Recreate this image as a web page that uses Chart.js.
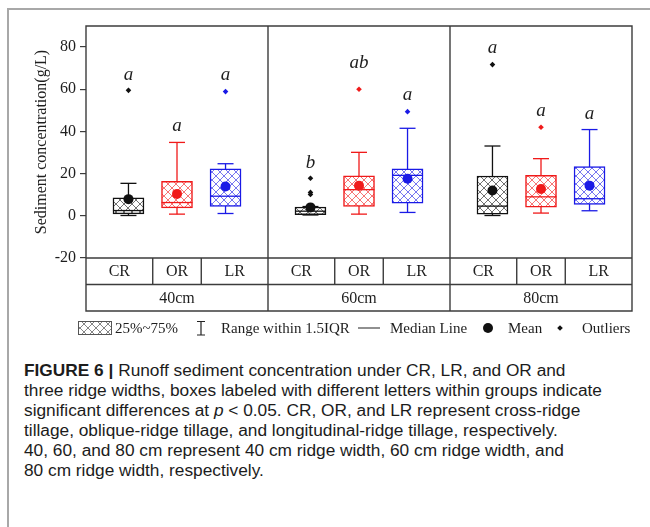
<!DOCTYPE html>
<html>
<head>
<meta charset="utf-8">
<script src="https://cdn.jsdelivr.net/npm/chart.js@4.4.1/dist/chart.umd.min.js"></script>
<style>
  html, body { margin: 0; padding: 0; background: #fff; }
  #page { position: relative; width: 650px; height: 527px; overflow: hidden; background: #fff; }
  #frameL { position: absolute; left: 7px; top: 8px; width: 2px; height: 519px; background: #a8a8a8; }
  #frameT { position: absolute; left: 7px; top: 8px; width: 643px; height: 2px; background: #a8a8a8; }
  #chart { position: absolute; left: 0; top: 0; }
  #caption {
    position: absolute; left: 24px; top: 360px;
    font-family: "Liberation Sans", Arial, sans-serif; font-size: 17.3px; line-height: 20px;
    color: #1c1c1c; white-space: nowrap;
  }
  #caption b { font-weight: bold; }
</style>
</head>
<body>
<div id="page">
  <div id="frameL"></div>
  <div id="frameT"></div>
  <canvas id="chart" width="650" height="345"></canvas>
  <div id="caption">
    <div><b>FIGURE 6 |</b> Runoff sediment concentration under CR, LR, and OR and</div>
    <div>three ridge widths, boxes labeled with different letters within groups indicate</div>
    <div>significant differences at <i>p</i> &lt; 0.05. CR, OR, and LR represent cross-ridge</div>
    <div>tillage, oblique-ridge tillage, and longitudinal-ridge tillage, respectively.</div>
    <div>40, 60, and 80 cm represent 40 cm ridge width, 60 cm ridge width, and</div>
    <div>80 cm ridge width, respectively.</div>
  </div>
</div>
<script>
// Ridge widths (groups) and tillage treatments (boxes within each group)
const ridgeWidths = ['40cm', '60cm', '80cm'];
const treatments = ['CR', 'OR', 'LR'];
const yTickValues = [-20, 0, 20, 40, 60, 80];

// Box statistics, g/L; rows follow treatments, columns follow ridgeWidths
const whiskerLow    = [[0.15, 0.4, 0.15], [0.8, 0.8, 1.3], [1.1, 1.6, 2.4]];
const lowerQuartile = [[0.95, 0.6, 0.8], [3.8, 4.4, 4.1], [4.4, 6.0, 5.4]];
const medianValue   = [[2.5, 2.2, 4.6], [6.3, 12.4, 9.0], [9.3, 19.2, 8.1]];
const upperQuartile = [[8.55, 4.2, 18.9], [16.3, 19.0, 19.2], [22.3, 22.3, 23.4]];
const whiskerHigh   = [[15.4, 4.4, 33.1], [34.8, 30.1, 27.1], [24.7, 41.5, 40.9]];
const meanValue     = [[7.9, 4.0, 12.0], [10.4, 14.3, 12.7], [13.9, 17.6, 14.3]];
const outlierValues = [
  [[59.5], [17.8, 11.1, 10.1], [71.7]],
  [[], [60.0], [42.0]],
  [[58.9], [49.4], []]
];

// Significance letters and the concentration level they sit at
const sigLetters = [['a', 'b', 'a'], ['a', 'ab', 'a'], ['a', 'a', 'a']];
const letterLevel = [[65.6, 23.9, 78.5], [41.8, 71.4, 48.6], [65.9, 56.4, 47.2]];

// Layout of the category axis: each ridge width spans 3 units
const slotOffset = [0.7, 1.5, 2.3];
const cellSplit = [1.1, 1.9];
const treatmentColor = ['#111111', '#f01a1a', '#1a1ae6'];
const serif = '"Liberation Serif", "Times New Roman", serif';

const canvas = document.getElementById('chart');
const ctx0 = canvas.getContext('2d');

function hatchPattern(color) {
  const c = document.createElement('canvas');
  c.width = 8; c.height = 8;
  const g = c.getContext('2d');
  g.fillStyle = '#ffffff';
  g.fillRect(0, 0, 8, 8);
  g.strokeStyle = color;
  g.globalAlpha = 0.75;
  g.lineWidth = 0.8;
  g.beginPath();
  g.moveTo(-1, -1); g.lineTo(9, 9);
  g.moveTo(9, -1); g.lineTo(-1, 9);
  g.stroke();
  return ctx0.createPattern(c, 'repeat');
}

const xPos = (ti, gi) => gi * 3 + slotOffset[ti];

const datasets = [];
treatments.forEach((t, ti) => {
  const col = treatmentColor[ti];
  const whiskerPts = [], capPts = [], boxPts = [], medPts = [], meanPts = [], outPts = [];
  ridgeWidths.forEach((w, gi) => {
    const x = xPos(ti, gi);
    whiskerPts.push({ x, y: whiskerLow[ti][gi] }, { x, y: whiskerHigh[ti][gi] }, { x, y: null });
    capPts.push({ x, y: whiskerLow[ti][gi] }, { x, y: whiskerHigh[ti][gi] });
    boxPts.push({ x, y: [lowerQuartile[ti][gi], upperQuartile[ti][gi]] });
    medPts.push({ x, y: medianValue[ti][gi] });
    meanPts.push({ x, y: meanValue[ti][gi] });
    outlierValues[ti][gi].forEach(v => outPts.push({ x, y: v }));
  });
  datasets.push({
    type: 'line', label: t + ' whisker', data: whiskerPts, borderColor: col, borderWidth: 1.3,
    pointRadius: 0, spanGaps: false, fill: false, order: 5
  });
  datasets.push({
    type: 'scatter', label: t + ' cap', data: capPts, pointStyle: 'line', pointRadius: 8,
    borderColor: col, pointBorderWidth: 1.3, order: 4
  });
  datasets.push({
    type: 'bar', label: t + ' IQR', data: boxPts, backgroundColor: hatchPattern(col),
    borderColor: col, borderWidth: 1.5, borderSkipped: false, barThickness: 31, grouped: false, order: 3
  });
  datasets.push({
    type: 'scatter', label: t + ' median', data: medPts, pointStyle: 'line', pointRadius: 15.5,
    borderColor: col, pointBorderWidth: 1.3, order: 2
  });
  datasets.push({
    type: 'scatter', label: t + ' mean', data: meanPts, pointStyle: 'circle', pointRadius: 5,
    backgroundColor: col, borderColor: col, pointBorderWidth: 0, order: 1
  });
  datasets.push({
    type: 'scatter', label: t + ' outliers', data: outPts, pointStyle: 'rectRot', pointRadius: 2.8,
    backgroundColor: col, borderColor: col, pointBorderWidth: 0, order: 0
  });
});

// Panel frame, treatment/width table under the plot, letters and legend
const panelPlugin = {
  id: 'panelTable',
  afterDraw(chart) {
    const { ctx, chartArea: a, scales: { x, y } } = chart;
    const tableBottom = x.bottom;
    const rowMid = (a.bottom + tableBottom) / 2;
    ctx.save();
    ctx.strokeStyle = '#3c3c3c';
    ctx.lineWidth = 1.4;
    ctx.beginPath();
    ctx.rect(a.left, a.top, a.right - a.left, tableBottom - a.top);
    ctx.moveTo(a.left, a.bottom); ctx.lineTo(a.right, a.bottom);
    ctx.moveTo(a.left, rowMid); ctx.lineTo(a.right, rowMid);
    [3, 6].forEach(v => {
      const px = x.getPixelForValue(v);
      ctx.moveTo(px, a.top); ctx.lineTo(px, tableBottom);
    });
    ridgeWidths.forEach((w, gi) => {
      cellSplit.forEach(s => {
        const px = x.getPixelForValue(gi * 3 + s);
        ctx.moveTo(px, a.bottom); ctx.lineTo(px, rowMid);
      });
    });
    ctx.stroke();

    // table text
    ctx.fillStyle = '#1e1e1e';
    ctx.font = '16px ' + serif;
    ctx.textAlign = 'center';
    ctx.textBaseline = 'middle';
    const edges = [0, cellSplit[0], cellSplit[1], 3];
    ridgeWidths.forEach((w, gi) => {
      treatments.forEach((t, ti) => {
        const cx = (x.getPixelForValue(gi * 3 + edges[ti]) + x.getPixelForValue(gi * 3 + edges[ti + 1])) / 2;
        ctx.fillText(t, cx, (a.bottom + rowMid) / 2 + 1);
      });
      const gx = x.getPixelForValue(gi * 3 + 1.5);
      ctx.fillText(w, gx, (rowMid + tableBottom) / 2 + 1);
    });

    // significance letters
    ctx.font = 'italic 19px ' + serif;
    treatments.forEach((t, ti) => {
      ridgeWidths.forEach((w, gi) => {
        ctx.fillText(sigLetters[ti][gi], x.getPixelForValue(xPos(ti, gi)), y.getPixelForValue(letterLevel[ti][gi]) - 2);
      });
    });

    // legend row
    const ly = 328;
    const swatch = hatchPattern('#333333');
    ctx.fillStyle = swatch;
    ctx.fillRect(78, ly - 7, 34, 14);
    ctx.strokeStyle = '#555';
    ctx.lineWidth = 1;
    ctx.strokeRect(78.5, ly - 6.5, 33, 13);
    ctx.fillStyle = '#1e1e1e';
    ctx.font = '15px ' + serif;
    ctx.textAlign = 'left';
    ctx.fillText('25%~75%', 115, ly + 1);
    ctx.strokeStyle = '#222';
    ctx.lineWidth = 1.2;
    ctx.beginPath();
    ctx.moveTo(201, ly - 6.5); ctx.lineTo(201, ly + 7);
    ctx.moveTo(197, ly - 6.5); ctx.lineTo(205, ly - 6.5);
    ctx.moveTo(197, ly + 7); ctx.lineTo(205, ly + 7);
    ctx.moveTo(358, ly); ctx.lineTo(380, ly);
    ctx.stroke();
    ctx.fillText('Range within 1.5IQR', 221, ly + 1);
    ctx.fillText('Median Line', 390, ly + 1);
    ctx.fillStyle = '#111';
    ctx.beginPath(); ctx.arc(488, ly, 5, 0, Math.PI * 2); ctx.fill();
    ctx.beginPath();
    ctx.moveTo(560, ly - 2.8); ctx.lineTo(562.8, ly); ctx.lineTo(560, ly + 2.8); ctx.lineTo(557.2, ly);
    ctx.closePath(); ctx.fill();
    ctx.fillStyle = '#1e1e1e';
    ctx.fillText('Mean', 508, ly + 1);
    ctx.fillText('Outliers', 582, ly + 1);
    ctx.restore();
  }
};

new Chart(canvas, {
  type: 'bar',
  data: { datasets },
  options: {
    responsive: false,
    animation: false,
    devicePixelRatio: 1,
    layout: { padding: { left: 0, top: 26, right: 18, bottom: 34 } },
    plugins: { legend: { display: false }, tooltip: { enabled: false } },
    scales: {
      x: {
        type: 'linear', min: 0, max: 9, offset: false,
        ticks: { display: false },
        grid: { display: false },
        border: { display: false },
        afterFit(scale) { scale.height = 53; }
      },
      y: {
        min: -20, max: 90,
        afterBuildTicks(scale) { scale.ticks = yTickValues.map(v => ({ value: v })); },
        afterFit(scale) { scale.width = 86; },
        ticks: { color: '#1e1e1e', padding: 4, font: { family: serif, size: 16 } },
        grid: { drawOnChartArea: false, drawTicks: true, tickLength: 6, color: '#3c3c3c', lineWidth: 1.2 },
        border: { display: false },
        title: {
          display: true, text: 'Sediment concentration(g/L)', color: '#1e1e1e',
          font: { family: serif, size: 16 }, padding: { top: 32, bottom: 0 }
        }
      }
    }
  },
  plugins: [panelPlugin]
});
</script>
</body>
</html>
